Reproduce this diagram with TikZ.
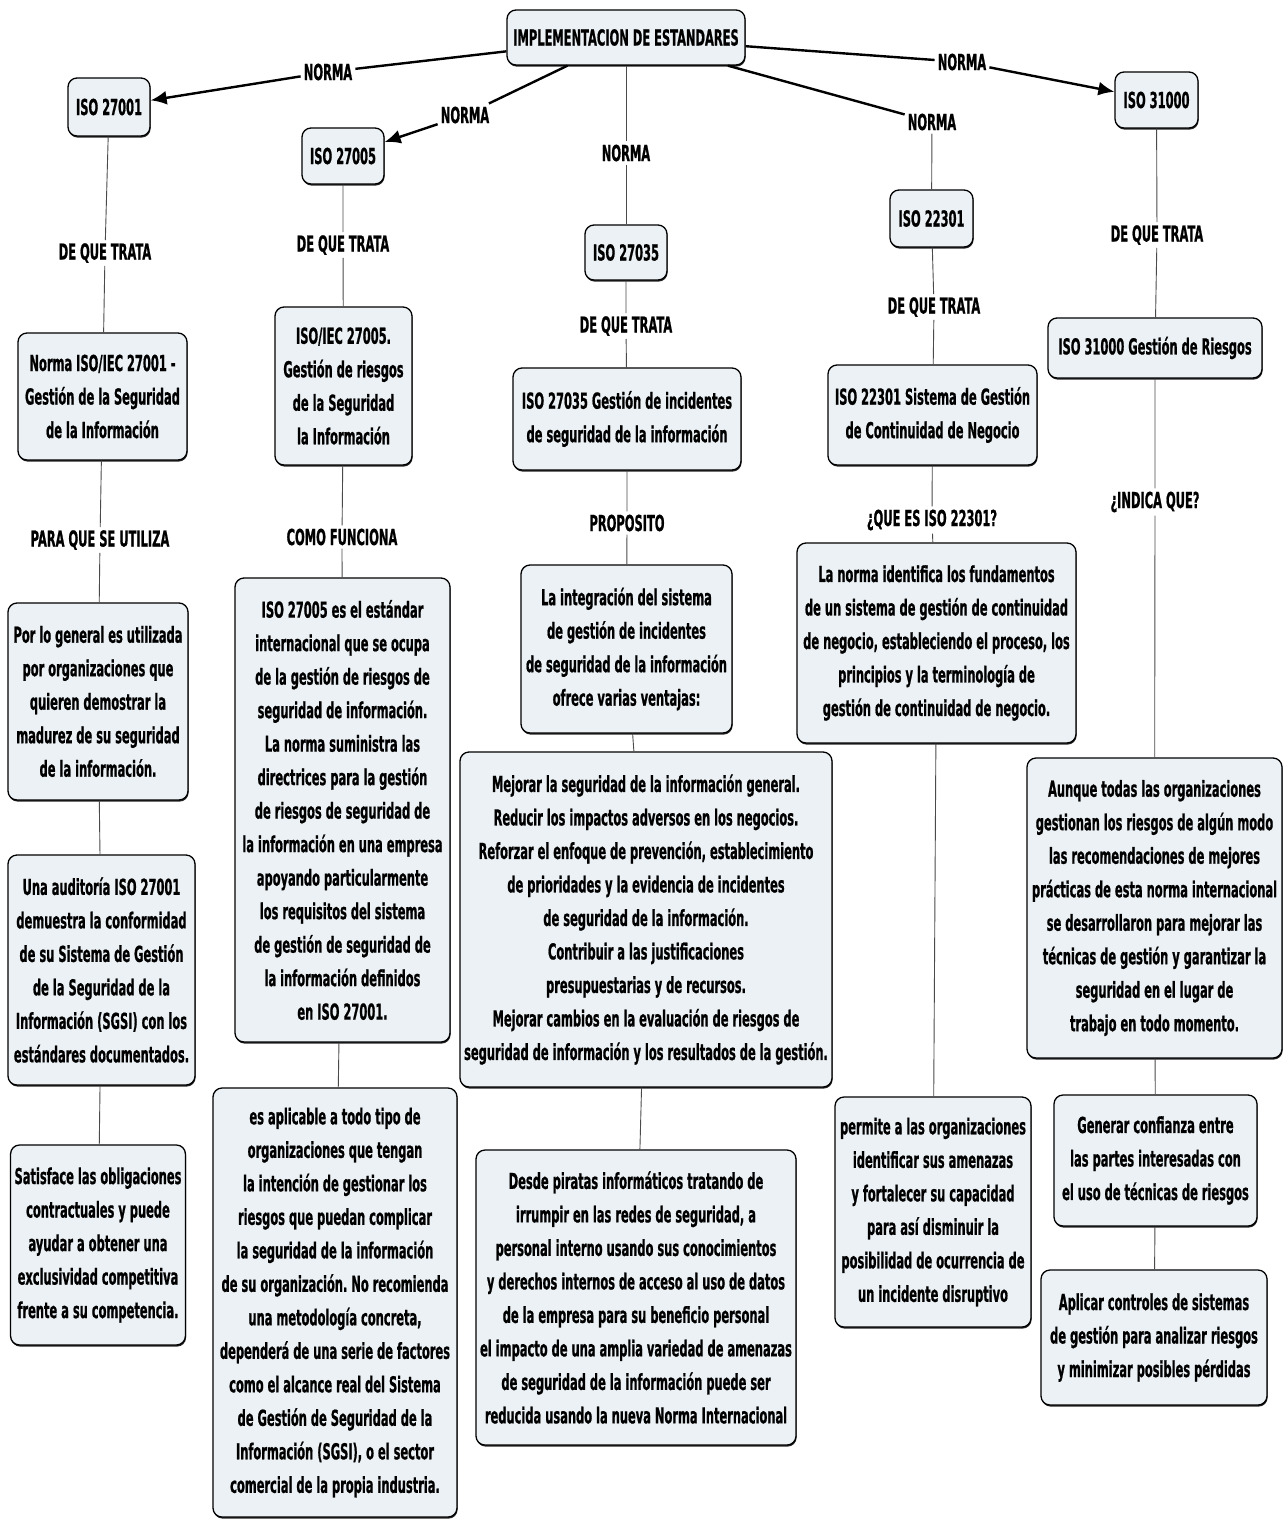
\documentclass[tikz,border=0pt]{standalone}
\usepackage{fontspec}
\newfontfamily\mapfont{DejaVu Sans}[FakeStretch=0.52,FakeBold=0.8]
\usetikzlibrary{arrows.meta,shadows}
\definecolor{boxfill}{HTML}{EBF1F4}
\definecolor{linkgray}{HTML}{4A4A4A}
\frenchspacing
\tikzset{
  concept/.style={draw=black, line width=1.3pt, rounded corners=9pt, fill=boxfill,
    align=center, inner sep=4pt,
    font=\mapfont\bfseries\fontsize{22}{33.5}\selectfont,
    drop shadow={shadow xshift=0.6pt, shadow yshift=-1.6pt, fill=black, opacity=0.85}},
  linkword/.style={align=center, inner sep=3pt,
    font=\mapfont\bfseries\fontsize{22}{33.5}\selectfont},
  conn/.style={draw=linkgray, line width=0.9pt},
  mainlink/.style={draw=black, line width=2.4pt},
  arrowend/.style={-{Latex[length=16pt,width=14pt]}}
}
\begin{document}
\begin{tikzpicture}[x=1pt,y=-1pt]
\useasboundingbox[fill=white] (0,0) rectangle (1287,1520);

% ---------- root ----------
\node[concept, minimum width=238pt, minimum height=55pt] (root) at (626,37.5) {IMPLEMENTACION DE ESTANDARES};

% ---------- standards ----------
\node[concept, minimum width=82pt, minimum height=58pt] (s1) at (109,107) {ISO 27001};
\node[concept, minimum width=82pt, minimum height=56pt] (s2) at (343,156) {ISO 27005};
\node[concept, minimum width=82pt, minimum height=55pt] (s3) at (626,252.5) {ISO 27035};
\node[concept, minimum width=83pt, minimum height=57pt] (s4) at (931.5,218.5) {ISO 22301};
\node[concept, minimum width=83pt, minimum height=56pt] (s5) at (1156.5,100) {ISO 31000};

% ---------- linking words from the root ----------
\node[linkword] (n1) at (328,72) {NORMA};
\node[linkword] (n2) at (465,115) {NORMA};
\node[linkword] (n3) at (626,153) {NORMA};
\node[linkword] (n4) at (932,122) {NORMA};
\node[linkword] (n5) at (962,62) {NORMA};

% ---------- column ISO 27001 ----------
\node[linkword] (q1) at (105,253) {DE QUE TRATA};
\node[concept, minimum width=169pt, minimum height=127pt] (a1) at (102.5,396.5)
  {Norma ISO/IEC 27001 -\\Gestión de la Seguridad\\de la Información};
\node[linkword] (p1) at (100,540) {PARA QUE SE UTILIZA};
\node[concept, minimum width=180pt, minimum height=197pt] (a2) at (98,701.5)
  {Por lo general es utilizada\\por organizaciones que\\quieren demostrar la\\madurez de su seguridad\\de la información.};
\node[concept, minimum width=187pt, minimum height=230pt] (a3) at (101.5,970)
  {Una auditoría ISO 27001\\demuestra la conformidad\\de su Sistema de Gestión\\de la Seguridad de la\\Información (SGSI) con los\\estándares documentados.};
\node[concept, minimum width=174pt, minimum height=200pt] (a4) at (98,1245)
  {Satisface las obligaciones\\contractuales y puede\\ayudar a obtener una\\exclusividad competitiva\\frente a su competencia.};

% ---------- column ISO 27005 ----------
\node[linkword] (q2) at (343,245) {DE QUE TRATA};
\node[concept, minimum width=137pt, minimum height=158pt] (b1) at (343.5,386)
  {ISO/IEC 27005.\\Gestión de riesgos\\de la Seguridad\\la Información};
\node[linkword] (p2) at (342,537) {COMO FUNCIONA};
\node[concept, minimum width=215pt, minimum height=464pt] (b2) at (342.5,810)
  {ISO 27005 es el estándar\\internacional que se ocupa\\de la gestión de riesgos de\\seguridad de información.\\La norma suministra las\\directrices para la gestión\\de riesgos de seguridad de\\la información en una empresa\\apoyando particularmente\\los requisitos del sistema\\de gestión de seguridad de\\la información definidos\\en ISO 27001.};
\node[concept, minimum width=244pt, minimum height=429pt] (b3) at (335,1302.5)
  {es aplicable a todo tipo de\\organizaciones que tengan\\la intención de gestionar los\\riesgos que puedan complicar\\la seguridad de la información\\de su organización. No recomienda\\una metodología concreta,\\dependerá de una serie de factores\\como el alcance real del Sistema\\de Gestión de Seguridad de la\\Información (SGSI), o el sector\\comercial de la propia industria.};

% ---------- column ISO 27035 ----------
\node[linkword] (q3) at (626,326) {DE QUE TRATA};
\node[concept, minimum width=228pt, minimum height=102pt] (c1) at (627,419)
  {ISO 27035 Gestión de incidentes\\de seguridad de la información};
\node[linkword] (p3) at (627,523) {PROPOSITO};
\node[concept, minimum width=211pt, minimum height=168pt] (c2) at (626.5,649)
  {La integración del sistema\\de gestión de incidentes\\de seguridad de la información\\ofrece varias ventajas:};
\node[concept, minimum width=372pt, minimum height=335pt] (c3) at (646,919.5)
  {Mejorar la seguridad de la información general.\\Reducir los impactos adversos en los negocios.\\Reforzar el enfoque de prevención, establecimiento\\de prioridades y la evidencia de incidentes\\de seguridad de la información.\\Contribuir a las justificaciones\\presupuestarias y de recursos.\\Mejorar cambios en la evaluación de riesgos de\\seguridad de información y los resultados de la gestión.};
\node[concept, minimum width=320pt, minimum height=295pt] (c4) at (636,1297.5)
  {Desde piratas informáticos tratando de\\irrumpir en las redes de seguridad, a\\personal interno usando sus conocimientos\\y derechos internos de acceso al uso de datos\\de la empresa para su beneficio personal\\el impacto de una amplia variedad de amenazas\\de seguridad de la información puede ser\\reducida usando la nueva Norma Internacional};

% ---------- column ISO 22301 ----------
\node[linkword] (q4) at (934,307) {DE QUE TRATA};
\node[concept, minimum width=209pt, minimum height=100pt] (d1) at (932.5,415)
  {ISO 22301 Sistema de Gestión\\de Continuidad de Negocio};
\node[linkword] (p4) at (932,520) {¿QUE ES ISO 22301?};
\node[concept, minimum width=279pt, minimum height=200pt] (d2) at (936.5,643)
  {La norma identifica los fundamentos\\de un sistema de gestión de continuidad\\de negocio, estableciendo el proceso, los\\principios y la terminología de\\gestión de continuidad de negocio.};
\node[concept, minimum width=196pt, minimum height=230pt] (d3) at (933,1212)
  {permite a las organizaciones\\identificar sus amenazas\\y fortalecer su capacidad\\para así disminuir la\\posibilidad de ocurrencia de\\un incidente disruptivo};

% ---------- column ISO 31000 ----------
\node[linkword] (q5) at (1157,235) {DE QUE TRATA};
\node[concept, minimum width=214pt, minimum height=60pt] (e1) at (1155,348)
  {ISO 31000 Gestión de Riesgos};
\node[linkword] (p5) at (1155,502) {¿INDICA QUE?};
\node[concept, minimum width=255pt, minimum height=300pt] (e2) at (1154.5,908)
  {Aunque todas las organizaciones\\gestionan los riesgos de algún modo\\las recomendaciones de mejores\\prácticas de esta norma internacional\\se desarrollaron para mejorar las\\técnicas de gestión y garantizar la\\seguridad en el lugar de\\trabajo en todo momento.};
\node[concept, minimum width=203pt, minimum height=131pt] (e3) at (1155.5,1160.5)
  {Generar confianza entre\\las partes interesadas con\\el uso de técnicas de riesgos};
\node[concept, minimum width=226pt, minimum height=135pt] (e4) at (1154,1337.5)
  {Aplicar controles de sistemas\\de gestión para analizar riesgos\\y minimizar posibles pérdidas};

% ---------- connectors from the root ----------
\draw[mainlink] (root) -- (n1);
\draw[mainlink, arrowend] (n1) -- (s1);
\draw[mainlink] (root) -- (n2);
\draw[mainlink, arrowend] (n2) -- (s2);
\draw[conn] (root) -- (n3);
\draw[conn] (n3) -- (s3);
\draw[mainlink] (root) -- (n4);
\draw[conn] (n4) -- (s4);
\draw[mainlink] (root) -- (n5);
\draw[mainlink, arrowend] (n5) -- (s5);

% ---------- connectors down each column ----------
\draw[conn] (s1) -- (q1) -- (a1);
\draw[conn] (a1) -- (p1) -- (a2);
\draw[conn] (a2) -- (a3);
\draw[conn] (a3) -- (a4);

\draw[conn] (s2) -- (q2) -- (b1);
\draw[conn] (b1) -- (p2) -- (b2);
\draw[conn] (b2) -- (b3);

\draw[conn] (s3) -- (q3) -- (c1);
\draw[conn] (c1) -- (p3) -- (c2);
\draw[conn] (c2) -- (c3);
\draw[conn] (c3) -- (c4);

\draw[conn] (s4) -- (q4) -- (d1);
\draw[conn] (d1) -- (p4) -- (d2);
\draw[conn] (d2) -- (d3);

\draw[conn] (s5) -- (q5) -- (e1);
\draw[conn] (e1) -- (p5) -- (e2);
\draw[conn] (e2) -- (e3);
\draw[conn] (e3) -- (e4);
\end{tikzpicture}
\end{document}
